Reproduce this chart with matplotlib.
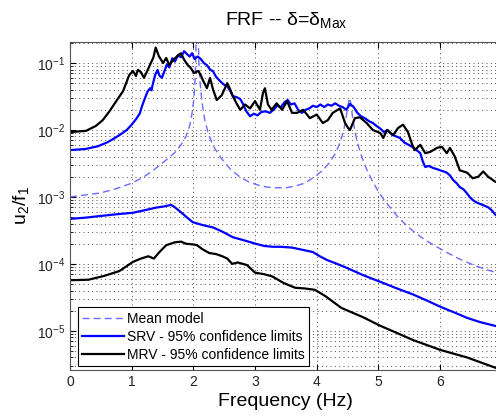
import numpy as np
import matplotlib
matplotlib.use("Agg")
import matplotlib.pyplot as plt

plt.rcParams['font.family'] = 'Liberation Sans'
plt.rcParams['mathtext.fontset'] = 'custom'
plt.rcParams['mathtext.rm'] = 'Liberation Sans'
plt.rcParams['mathtext.it'] = 'Liberation Sans:italic'

# mean model (dashed)
f_mean = [0.0, 0.25, 0.5, 0.75, 1.0, 1.2, 1.35, 1.55, 1.7, 1.8, 1.88, 1.94, 1.98, 2.01, 2.03, 2.05,
          2.07, 2.09, 2.11, 2.14, 2.18, 2.24, 2.32, 2.45, 2.6, 2.75, 2.9, 3.05, 3.2, 3.35, 3.5,
          3.65, 3.8, 3.95, 4.1, 4.2, 4.3, 4.38, 4.44, 4.48, 4.51, 4.53, 4.55, 4.58, 4.62, 4.67,
          4.73, 4.8, 4.9, 5.0, 5.1, 5.2, 5.32, 5.45, 5.6, 5.75, 5.9, 6.1, 6.3, 6.5, 6.7, 6.93]
v_mean = [1.0e-3, 1.07e-3, 1.15e-3, 1.33e-3, 1.6e-3, 2.0e-3, 2.5e-3, 3.5e-3, 4.6e-3, 6.0e-3,
          8.0e-3, 1.15e-2, 1.8e-2, 3.0e-2, 6.0e-2, 3.0e-1, 6.0e-1, 1.0e-1, 5.0e-2, 2.6e-2, 1.5e-2,
          9.0e-3, 5.8e-3, 3.8e-3, 2.6e-3, 2.0e-3, 1.67e-3, 1.5e-3, 1.4e-3, 1.37e-3, 1.37e-3,
          1.45e-3, 1.6e-3, 1.95e-3, 2.5e-3, 3.2e-3, 4.4e-3, 6.5e-3, 1.0e-2, 1.6e-2, 2.4e-2,
          3.0e-2, 2.6e-2, 1.6e-2, 9.5e-3, 6.0e-3, 4.0e-3, 2.7e-3, 1.75e-3, 1.2e-3, 8.8e-4,
          6.8e-4, 5.0e-4, 3.8e-4, 2.9e-4, 2.3e-4, 1.9e-4, 1.5e-4, 1.2e-4, 1.0e-4, 8.5e-5, 7.3e-5]

# SRV - upper limit (blue)
f_srv_up = [0.0, 0.25, 0.45, 0.6, 0.72, 0.82, 0.92, 1.0, 1.07, 1.13, 1.17, 1.21, 1.26, 1.3,
            1.32, 1.34, 1.38, 1.42, 1.45, 1.49, 1.53, 1.57, 1.61, 1.66, 1.7, 1.75, 1.8, 1.85,
            1.9, 1.94, 1.98, 2.02, 2.07, 2.12, 2.17, 2.22, 2.27, 2.32, 2.37, 2.43, 2.49, 2.55,
            2.6, 2.64, 2.7, 2.76, 2.81, 2.86, 2.92, 2.98, 3.04, 3.1, 3.17, 3.24, 3.3, 3.36,
            3.42, 3.48, 3.53, 3.58, 3.64, 3.7, 3.76, 3.82, 3.88, 3.94, 4.0, 4.06, 4.12, 4.18,
            4.24, 4.3, 4.36, 4.42, 4.48, 4.54, 4.6, 4.66, 4.72, 4.78, 4.85, 4.91, 4.97, 5.03,
            5.09, 5.15, 5.22, 5.29, 5.35, 5.42, 5.49, 5.55, 5.62, 5.68, 5.72, 5.76, 5.82, 5.89,
            5.95, 6.0, 6.06, 6.11, 6.16, 6.21, 6.27, 6.32, 6.38, 6.43, 6.48, 6.53, 6.6, 6.66,
            6.72, 6.78, 6.84, 6.89, 6.95]
v_srv_up = [5.0e-3, 5.2e-3, 5.7e-3, 6.5e-3, 7.5e-3, 8.6e-3, 1.0e-2, 1.2e-2, 1.45e-2, 1.75e-2,
            2.3e-2, 2.9e-2, 3.8e-2, 4.2e-2, 3.9e-2, 4.7e-2, 6.6e-2, 7.9e-2, 6.5e-2, 6.0e-2,
            7.5e-2, 9.5e-2, 8.6e-2, 1.18e-1, 1.05e-1, 1.3e-1, 1.22e-1, 1.5e-1, 1.35e-1, 1.25e-1,
            1.4e-1, 1.15e-1, 1.25e-1, 1.15e-1, 1.0e-1, 9.3e-2, 8.0e-2, 7.5e-2, 6.2e-2, 5.4e-2,
            4.8e-2, 4.5e-2, 3.8e-2, 3.2e-2, 3.1e-2, 2.9e-2, 2.4e-2, 1.9e-2, 1.6e-2, 1.75e-2,
            1.65e-2, 1.85e-2, 1.9e-2, 1.8e-2, 2.0e-2, 2.3e-2, 2.2e-2, 2.6e-2, 2.8e-2, 2.4e-2,
            2.5e-2, 2.0e-2, 1.8e-2, 2.0e-2, 2.1e-2, 2.3e-2, 2.2e-2, 2.4e-2, 2.2e-2, 2.4e-2,
            2.3e-2, 2.5e-2, 2.3e-2, 2.2e-2, 2.0e-2, 2.45e-2, 2.2e-2, 1.8e-2, 1.6e-2, 1.5e-2,
            1.35e-2, 1.27e-2, 1.15e-2, 1.05e-2, 9.3e-3, 1.0e-2, 8.5e-3, 8.0e-3, 7.6e-3, 6.5e-3,
            6.0e-3, 5.6e-3, 5.0e-3, 4.5e-3, 3.4e-3, 2.8e-3, 2.9e-3, 2.7e-3, 2.6e-3, 2.5e-3,
            2.4e-3, 2.3e-3, 2.1e-3, 1.8e-3, 1.6e-3, 1.4e-3, 1.3e-3, 1.15e-3, 1.0e-3, 9.0e-4,
            8.2e-4, 7.8e-4, 7.4e-4, 7.0e-4, 6.3e-4, 5.5e-4, 5.0e-4]

# SRV - lower limit (blue)
f_srv_lo = [0.0, 0.25, 0.5, 0.75, 1.02, 1.2, 1.39, 1.52, 1.64, 1.7, 1.8, 1.9, 1.99, 2.15, 2.32,
            2.48, 2.64, 2.82, 3.01, 3.15, 3.29, 3.41, 3.6, 3.8, 3.94, 4.05, 4.17, 4.33, 4.49,
            4.75, 5.03, 5.3, 5.56, 5.8, 6.0, 6.22, 6.44, 6.65, 6.95]
v_srv_lo = [4.7e-4, 4.9e-4, 5.2e-4, 5.5e-4, 5.8e-4, 6.3e-4, 6.9e-4, 7.2e-4, 7.6e-4, 7.0e-4,
            5.9e-4, 4.9e-4, 4.2e-4, 3.8e-4, 3.5e-4, 3.0e-4, 2.5e-4, 2.25e-4, 2.0e-4, 1.85e-4,
            1.8e-4, 1.8e-4, 1.75e-4, 1.6e-4, 1.5e-4, 1.3e-4, 1.14e-4, 1.0e-4, 8.7e-5, 6.8e-5,
            5.4e-5, 4.3e-5, 3.5e-5, 2.8e-5, 2.3e-5, 1.9e-5, 1.56e-5, 1.35e-5, 1.15e-5]

# MRV - upper limit (black)
f_mrv_up = [0.0, 0.26, 0.42, 0.53, 0.64, 0.75, 0.86, 0.91, 0.96, 1.02, 1.07, 1.1, 1.15, 1.2,
            1.26, 1.31, 1.35, 1.39, 1.44, 1.51, 1.56, 1.61, 1.67, 1.75, 1.8, 1.85, 1.91, 1.96,
            2.01, 2.08, 2.12, 2.16, 2.22, 2.27, 2.32, 2.38, 2.46, 2.55, 2.59, 2.64, 2.7, 2.76,
            2.84, 2.92, 3.0, 3.08, 3.13, 3.16, 3.21, 3.27, 3.35, 3.44, 3.52, 3.6, 3.68, 3.78,
            3.89, 4.0, 4.1, 4.18, 4.26, 4.38, 4.46, 4.51, 4.54, 4.62, 4.7, 4.81, 4.91, 5.03,
            5.08, 5.14, 5.24, 5.32, 5.4, 5.48, 5.55, 5.59, 5.68, 5.76, 5.84, 5.95, 6.03, 6.11,
            6.16, 6.24, 6.32, 6.44, 6.53, 6.62, 6.7, 6.78, 6.89, 6.95]
v_mrv_up = [9.3e-3, 9.7e-3, 1.15e-2, 1.4e-2, 1.9e-2, 2.7e-2, 3.8e-2, 5.0e-2, 6.6e-2, 7.6e-2,
            6.4e-2, 7.9e-2, 7.3e-2, 6.0e-2, 7.9e-2, 1.0e-1, 1.19e-1, 1.7e-1, 1.27e-1, 1.0e-1,
            1.19e-1, 9.3e-2, 1.1e-1, 1.3e-1, 1.4e-1, 1.12e-1, 9.3e-2, 8.4e-2, 7.1e-2, 7.6e-2,
            6.6e-2, 5.4e-2, 4.2e-2, 6.0e-2, 4.0e-2, 2.8e-2, 3.3e-2, 5.0e-2, 4.2e-2, 3.2e-2,
            2.5e-2, 2.0e-2, 2.4e-2, 2.1e-2, 2.7e-2, 2.0e-2, 3.6e-2, 4.2e-2, 2.4e-2, 2.0e-2,
            2.5e-2, 2.0e-2, 2.7e-2, 1.8e-2, 1.8e-2, 2.0e-2, 1.5e-2, 1.7e-2, 1.27e-2, 1.4e-2,
            1.8e-2, 2.1e-2, 1.27e-2, 1.07e-2, 1.0e-2, 1.5e-2, 1.55e-2, 1.27e-2, 1.0e-2, 9.0e-3,
            7.6e-3, 1.0e-2, 8.4e-3, 1.07e-2, 1.2e-2, 9.3e-3, 6.0e-3, 5.0e-3, 6.0e-3, 4.5e-3,
            4.7e-3, 5.4e-3, 5.6e-3, 4.5e-3, 5.4e-3, 4.0e-3, 2.5e-3, 2.3e-3, 1.9e-3, 2.0e-3,
            2.4e-3, 2.0e-3, 1.7e-3, 1.6e-3]

# MRV - lower limit (black)
f_mrv_lo = [0.0, 0.3, 0.55, 0.8, 1.02, 1.15, 1.27, 1.36, 1.45, 1.56, 1.7, 1.8, 1.88, 2.0, 2.06,
            2.15, 2.26, 2.37, 2.47, 2.55, 2.63, 2.72, 2.87, 3.0, 3.15, 3.28, 3.46, 3.65, 3.8,
            3.97, 4.14, 4.4, 4.75, 5.03, 5.3, 5.56, 6.0, 6.44, 6.95]
v_mrv_lo = [5.7e-5, 5.8e-5, 6.6e-5, 7.8e-5, 1.07e-4, 1.2e-4, 1.3e-4, 1.2e-4, 1.5e-4, 1.9e-4,
            2.1e-4, 2.15e-4, 2.0e-4, 1.95e-4, 1.9e-4, 1.65e-4, 1.45e-4, 1.4e-4, 1.3e-4, 1.2e-4,
            1.0e-4, 1.05e-4, 9.6e-5, 7.4e-5, 7.0e-5, 6.5e-5, 5.2e-5, 4.4e-5, 4.3e-5, 4.1e-5,
            3.3e-5, 2.2e-5, 1.6e-5, 1.19e-5, 9.3e-6, 7.3e-6, 5.2e-6, 4.0e-6, 2.7e-6]

fig = plt.figure(figsize=(4.96, 4.18), dpi=100)
ax = fig.add_axes([70/496, 48/418, 431.7/496, 328/418])

ax.plot(f_mean, v_mean, color='#6b6bff', lw=1.0, ls=(0, (5, 3)), label='Mean model')
ax.plot(f_srv_up, v_srv_up, color='#0000ff', lw=1.6, label='SRV - 95% confidence limits')
ax.plot(f_srv_lo, v_srv_lo, color='#0000ff', lw=1.6)
ax.plot(f_mrv_up, v_mrv_up, color='k', lw=1.6, label='MRV - 95% confidence limits')
ax.plot(f_mrv_lo, v_mrv_lo, color='k', lw=1.6)

ax.set_yscale('log')
ax.set_xlim(0, 7)
ax.set_ylim(2.6e-6, 0.206)
ax.set_xticks(range(7))

# matlab-like sparse dotted grid
dots = (0, (1.2, 4.0))
ax.grid(True, which='major', ls=dots, color='#333333', lw=0.6)
ax.yaxis.grid(True, which='minor', ls=dots, color='#333333', lw=0.6)
ax.tick_params(direction='in', which='both', top=True, right=True, labelsize=10,
               labelcolor='#222222')
ax.tick_params(which='major', length=4)
ax.tick_params(which='minor', length=2)
for s in ax.spines.values():
    s.set_color('#555555')

ax.set_title('FRF -- δ=δ$_{\\mathregular{Max}}$', fontsize=14, pad=12)
ax.set_xlabel('Frequency (Hz)', fontsize=14, labelpad=3)
ax.set_ylabel('u$_2$/f$_1$', fontsize=14, labelpad=4)

leg = ax.legend(loc='lower left', bbox_to_anchor=(0.0185, 0.012), borderaxespad=0,
                fancybox=False, framealpha=1, edgecolor='k', fontsize=10,
                handlelength=3.0, handletextpad=0.2, labelspacing=0.3, borderpad=0.3)
leg.get_frame().set_linewidth(0.8)

fig.savefig('out.png', dpi=100)
